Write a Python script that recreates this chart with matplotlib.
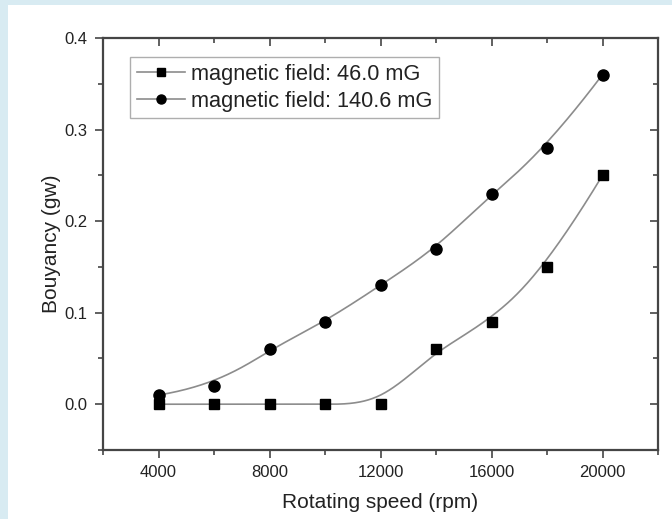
import numpy as np
import matplotlib
matplotlib.use("Agg")
import matplotlib.pyplot as plt
from matplotlib.patches import Rectangle
from matplotlib.ticker import MultipleLocator, FormatStrFormatter

plt.rcParams['font.family'] = ['Liberation Sans', 'DejaVu Sans']

# Measured buoyancy vs rotating speed
speed = [4000, 6000, 8000, 10000, 12000, 14000, 16000, 18000, 20000]
buoy_46 = [0.0, 0.0, 0.0, 0.0, 0.0, 0.06, 0.09, 0.15, 0.25]
buoy_140 = [0.01, 0.02, 0.06, 0.09, 0.13, 0.17, 0.23, 0.28, 0.36]
labels = ["magnetic field: 46.0 mG", "magnetic field: 140.6 mG"]


def bspline(xs, ys, k=3, num=400):
    """Clamped uniform B-spline using the data points as control points."""
    xs = np.asarray(xs, float)
    ys = np.asarray(ys, float)
    n = len(xs)
    knots = np.concatenate([np.zeros(k + 1), np.arange(1, n - k),
                            np.full(k + 1, n - k)]).astype(float)
    t = np.linspace(0, n - k, num)
    t[-1] -= 1e-9

    def basis(i, p):
        if p == 0:
            return ((knots[i] <= t) & (t < knots[i + 1])).astype(float)
        out = np.zeros_like(t)
        d1 = knots[i + p] - knots[i]
        if d1 > 0:
            out += (t - knots[i]) / d1 * basis(i, p - 1)
        d2 = knots[i + p + 1] - knots[i + 1]
        if d2 > 0:
            out += (knots[i + p + 1] - t) / d2 * basis(i + 1, p - 1)
        return out

    B = np.array([basis(i, k) for i in range(n)])
    return B.T @ xs, B.T @ ys


fig = plt.figure(figsize=(6.72, 5.19), dpi=100, facecolor='#d8ebf2')
# white panel inside the light blue frame
panel = Rectangle((8 / 672, 0), 1, 1 - 5 / 519, transform=fig.transFigure,
                  facecolor='white', edgecolor='none', zorder=-10)
fig.add_artist(panel)

ax = fig.add_axes([103 / 672, 1 - 450 / 519, 555 / 672, 412 / 519])
ax.set_facecolor('white')

line_color = '#8c8c8c'
for ys, marker, ms, lab in [(buoy_46, 's', 7, labels[0]), (buoy_140, 'o', 8, labels[1])]:
    cx, cy = bspline(speed, ys)
    ax.plot(cx, cy, color=line_color, lw=1.2, zorder=2)
    ax.plot(speed, ys, linestyle='none', marker=marker, ms=ms, color='black', zorder=3)
    # legend proxy: line with marker in the middle
    ax.plot([], [], color=line_color, lw=1.2, marker=marker, ms=ms - 1.5,
            markerfacecolor='black', markeredgecolor='black', label=lab)

ax.set_xlim(2000, 22000)
ax.set_ylim(-0.05, 0.4)
ax.xaxis.set_major_locator(MultipleLocator(4000))
ax.xaxis.set_minor_locator(MultipleLocator(2000))
ax.yaxis.set_major_locator(MultipleLocator(0.1))
ax.yaxis.set_minor_locator(MultipleLocator(0.05))
ax.yaxis.set_major_formatter(FormatStrFormatter('%.1f'))

spine_color = '#454545'
for s in ax.spines.values():
    s.set_color(spine_color)
    s.set_linewidth(1.6)

ax.tick_params(which='both', direction='out', color=spine_color, width=1.2,
               labelsize=12, labelcolor='#222222')
ax.tick_params(which='major', length=6, pad=5)
ax.tick_params(which='minor', length=3.5)

# secondary axes carry inward ticks on top and right
top = ax.secondary_xaxis('top')
top.xaxis.set_major_locator(MultipleLocator(4000))
top.xaxis.set_minor_locator(MultipleLocator(2000))
top.tick_params(which='both', direction='in', color=spine_color, width=1.2, labeltop=False)
top.tick_params(which='major', length=6)
top.tick_params(which='minor', length=3.5)
top.spines['top'].set_visible(False)

right = ax.secondary_yaxis('right')
right.yaxis.set_major_locator(MultipleLocator(0.1))
right.yaxis.set_minor_locator(MultipleLocator(0.05))
right.tick_params(which='both', direction='in', color=spine_color, width=1.2, labelright=False)
right.tick_params(which='major', length=6)
right.tick_params(which='minor', length=3.5)
right.spines['right'].set_visible(False)

ax.set_xlabel('Rotating speed (rpm)', fontsize=15, color='#222222', labelpad=9.5)
ax.set_ylabel('Bouyancy (gw)', fontsize=15, color='#222222', labelpad=2.5)

leg = ax.legend(loc='upper left', bbox_to_anchor=(27 / 555, 1 - 19 / 412),
                borderaxespad=0, fontsize=15.7, frameon=True, fancybox=False,
                handlelength=2.2, handletextpad=0.3, borderpad=0.3,
                labelspacing=0.28)
leg.get_frame().set_edgecolor('#9a9a9a')
leg.get_frame().set_linewidth(1.0)
for t in leg.get_texts():
    t.set_color('#222222')

fig.savefig('out.png', dpi=100, facecolor=fig.get_facecolor())
